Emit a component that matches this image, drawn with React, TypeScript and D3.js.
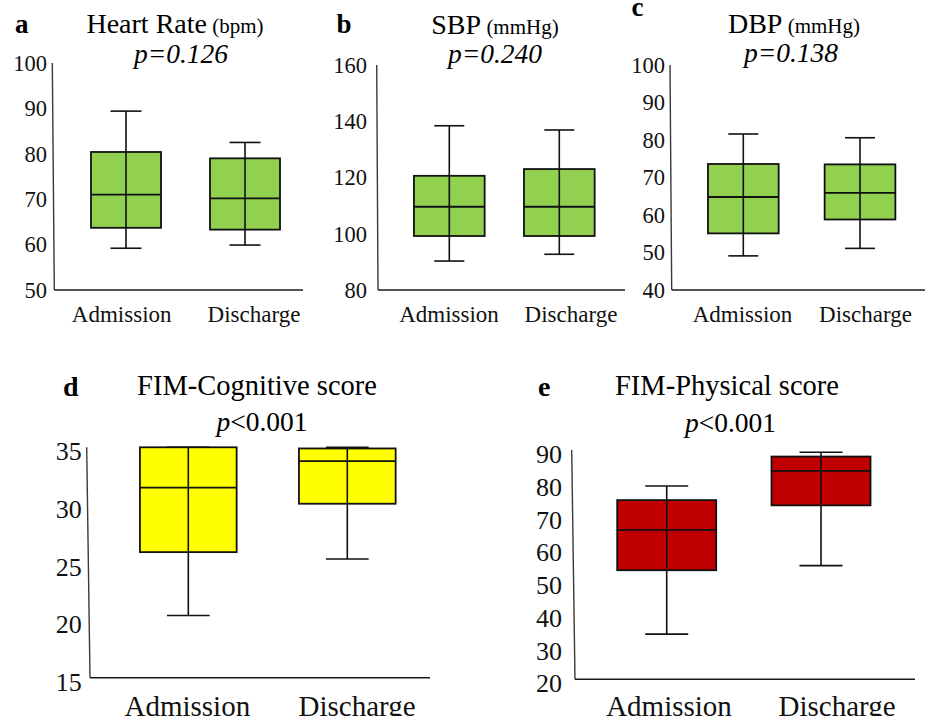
import React from "react";
import * as d3 from "d3";

// ---------- DATA ----------
const categories = ["Admission", "Discharge"];

// each row: [whiskerLow, q1, median, q3, whiskerHigh]
const heartRateStats = [
  [59.2, 63.7, 71.0, 80.4, 89.4],
  [59.9, 63.3, 70.2, 79.0, 82.5],
];
const sbpStats = [
  [90.3, 99.2, 109.6, 120.6, 138.4],
  [92.7, 99.2, 109.6, 123.0, 136.9],
];
const dbpStats = [
  [49.1, 55.1, 64.8, 73.6, 81.6],
  [51.1, 58.8, 65.9, 73.5, 80.6],
];
const fimCognitiveStats = [
  [20.4, 25.9, 31.5, 35.0, 35.0],
  [25.3, 30.1, 33.8, 34.9, 35.0],
];
const fimPhysicalStats = [
  [33.8, 53.3, 65.6, 74.7, 79.0],
  [54.7, 73.1, 83.6, 88.0, 89.3],
];

const heartRateTicks = [50, 60, 70, 80, 90, 100];
const sbpTicks = [80, 100, 120, 140, 160];
const dbpTicks = [40, 50, 60, 70, 80, 90, 100];
const fimCognitiveTicks = [15, 20, 25, 30, 35];
const fimPhysicalTicks = [20, 30, 40, 50, 60, 70, 80, 90];

const panelLetters = ["a", "b", "c", "d", "e"];
const titles = ["Heart Rate", "SBP", "DBP", "FIM-Cognitive score", "FIM-Physical score"];
const units = ["(bpm)", "(mmHg)", "(mmHg)", "", ""];
const pTexts = ["p=0.126", "p=0.240", "p=0.138", "<0.001", "<0.001"];

const GREEN = "#92D050";
const YELLOW = "#FFFF00";
const RED = "#C00000";

// ---------- LAYOUT ----------
const FONT = "'Liberation Serif', 'Times New Roman', Times, serif";

type Layout = {
  axTopX: number; axBotX: number; yTop: number; yBot: number; xEnd: number;
  c1: number; c2: number; boxW: number; capW: number;
  lab1: number; lab2: number; labY: number; labFont: number;
  tickRight: number; tickFont: number; tickDy: number;
  titleX: number; titleY: number; titleFont: number; unitFont: number;
  pX: number; pY: number; pFont: number; pItalicAll: boolean;
  letterX: number; letterY: number; letterFont: number;
  fill: string;
};

const layouts: Layout[] = [
  { axTopX: 52.3, axBotX: 54.3, yTop: 63, yBot: 290, xEnd: 303, c1: 126, c2: 245, boxW: 70, capW: 31,
    lab1: 121.7, lab2: 254, labY: 322, labFont: 23, tickRight: 47, tickFont: 22.5, tickDy: 0,
    titleX: 175, titleY: 33, titleFont: 28, unitFont: 21, pX: 181, pY: 63, pFont: 27.5, pItalicAll: true,
    letterX: 15, letterY: 33, letterFont: 27, fill: GREEN },
  { axTopX: 376.7, axBotX: 378, yTop: 65, yBot: 290, xEnd: 625, c1: 449.3, c2: 559.3, boxW: 70.7, capW: 30,
    lab1: 449, lab2: 571, labY: 322, labFont: 23, tickRight: 367, tickFont: 22.5, tickDy: 0,
    titleX: 495, titleY: 34, titleFont: 28, unitFont: 21, pX: 495, pY: 63, pFont: 27.5, pItalicAll: true,
    letterX: 336.5, letterY: 33, letterFont: 27, fill: GREEN },
  { axTopX: 670, axBotX: 671.7, yTop: 65, yBot: 290, xEnd: 925, c1: 743.3, c2: 860, boxW: 70.7, capW: 30,
    lab1: 742.5, lab2: 865.5, labY: 322, labFont: 23, tickRight: 665, tickFont: 22.5, tickDy: 0,
    titleX: 794, titleY: 33, titleFont: 28, unitFont: 21, pX: 791, pY: 62, pFont: 27.5, pItalicAll: true,
    letterX: 631.5, letterY: 16, letterFont: 27, fill: GREEN },
  { axTopX: 86.7, axBotX: 90, yTop: 447.3, yBot: 677.7, xEnd: 430, c1: 188.3, c2: 347.3, boxW: 96.7, capW: 42.7,
    lab1: 187.3, lab2: 357, labY: 716, labFont: 29, tickRight: 81.7, tickFont: 26, tickDy: 4,
    titleX: 257, titleY: 395, titleFont: 28.5, unitFont: 21, pX: 262, pY: 430.7, pFont: 27.5, pItalicAll: false,
    letterX: 63, letterY: 396, letterFont: 28, fill: YELLOW },
  { axTopX: 571.7, axBotX: 575, yTop: 450, yBot: 679.3, xEnd: 915, c1: 666.7, c2: 821, boxW: 99, capW: 43,
    lab1: 669, lab2: 837, labY: 716, labFont: 29, tickRight: 562, tickFont: 26, tickDy: 4,
    titleX: 727, titleY: 395, titleFont: 28.5, unitFont: 21, pX: 730.5, pY: 431.7, pFont: 27.5, pItalicAll: false,
    letterX: 538, letterY: 396, letterFont: 28, fill: RED },
];

const allStats = [heartRateStats, sbpStats, dbpStats, fimCognitiveStats, fimPhysicalStats];
const allTicks = [heartRateTicks, sbpTicks, dbpTicks, fimCognitiveTicks, fimPhysicalTicks];

function Panel({ idx }: { idx: number }) {
  const L = layouts[idx];
  const stats = allStats[idx];
  const ticks = allTicks[idx];
  const y = d3.scaleLinear().domain([ticks[0], ticks[ticks.length - 1]]).range([L.yBot, L.yTop]);
  const x = d3.scalePoint<string>().domain(categories).range([L.c1, L.c2]);
  const labX = [L.lab1, L.lab2];

  return (
    <g>
      <text x={L.letterX} y={L.letterY} fontFamily={FONT} fontWeight="bold" fontSize={L.letterFont}>
        {panelLetters[idx]}
      </text>
      <text x={L.titleX} y={L.titleY} textAnchor="middle" fontFamily={FONT} fontSize={L.titleFont}>
        {titles[idx]}
        {units[idx] ? <tspan fontSize={L.unitFont}>{" " + units[idx]}</tspan> : null}
      </text>
      <text x={L.pX} y={L.pY} textAnchor="middle" fontFamily={FONT} fontSize={L.pFont}
        fontStyle={L.pItalicAll ? "italic" : "normal"}>
        {L.pItalicAll ? pTexts[idx] : (<><tspan fontStyle="italic">p</tspan>{pTexts[idx]}</>)}
      </text>
      <line x1={L.axTopX} y1={y(ticks[ticks.length - 1])} x2={L.axBotX} y2={y(ticks[0])}
        stroke="#3a3a3a" strokeWidth={1.4} />
      <line x1={L.axBotX} y1={y(ticks[0])} x2={L.xEnd} y2={y(ticks[0])} stroke="#1a1a1a" strokeWidth={1.4} />
      {ticks.map((t) => (
        <text key={t} x={L.tickRight} y={y(t) + L.tickDy} dy="0.35em" textAnchor="end"
          fontFamily={FONT} fontSize={L.tickFont} fill="#111">
          {t}
        </text>
      ))}
      {categories.map((c, i) => {
        const [lo, q1, med, q3, hi] = stats[i];
        const cx = x(c) as number;
        return (
          <g key={c}>
            <rect x={cx - L.boxW / 2} y={y(q3)} width={L.boxW} height={y(q1) - y(q3)}
              fill={L.fill} stroke="#111" strokeWidth={1.8} />
            <line x1={cx - L.boxW / 2} x2={cx + L.boxW / 2} y1={y(med)} y2={y(med)} stroke="#111" strokeWidth={1.8} />
            <line x1={cx} x2={cx} y1={y(lo)} y2={y(hi)} stroke="#111" strokeWidth={1.6} />
            <line x1={cx - L.capW / 2} x2={cx + L.capW / 2} y1={y(lo)} y2={y(lo)} stroke="#111" strokeWidth={1.6} />
            <line x1={cx - L.capW / 2} x2={cx + L.capW / 2} y1={y(hi)} y2={y(hi)} stroke="#111" strokeWidth={1.6} />
            <text x={labX[i]} y={L.labY} textAnchor="middle" fontFamily={FONT} fontSize={L.labFont} fill="#111">
              {c}
            </text>
          </g>
        );
      })}
    </g>
  );
}

export default function App() {
  return (
    <svg width={925} height={716} viewBox="0 0 925 716"
      style={{ position: "absolute", left: 0, top: 0, background: "#fff" }}>
      <rect x={0} y={0} width={925} height={716} fill="#fff" />
      {layouts.map((_, i) => (
        <Panel key={i} idx={i} />
      ))}
    </svg>
  );
}
